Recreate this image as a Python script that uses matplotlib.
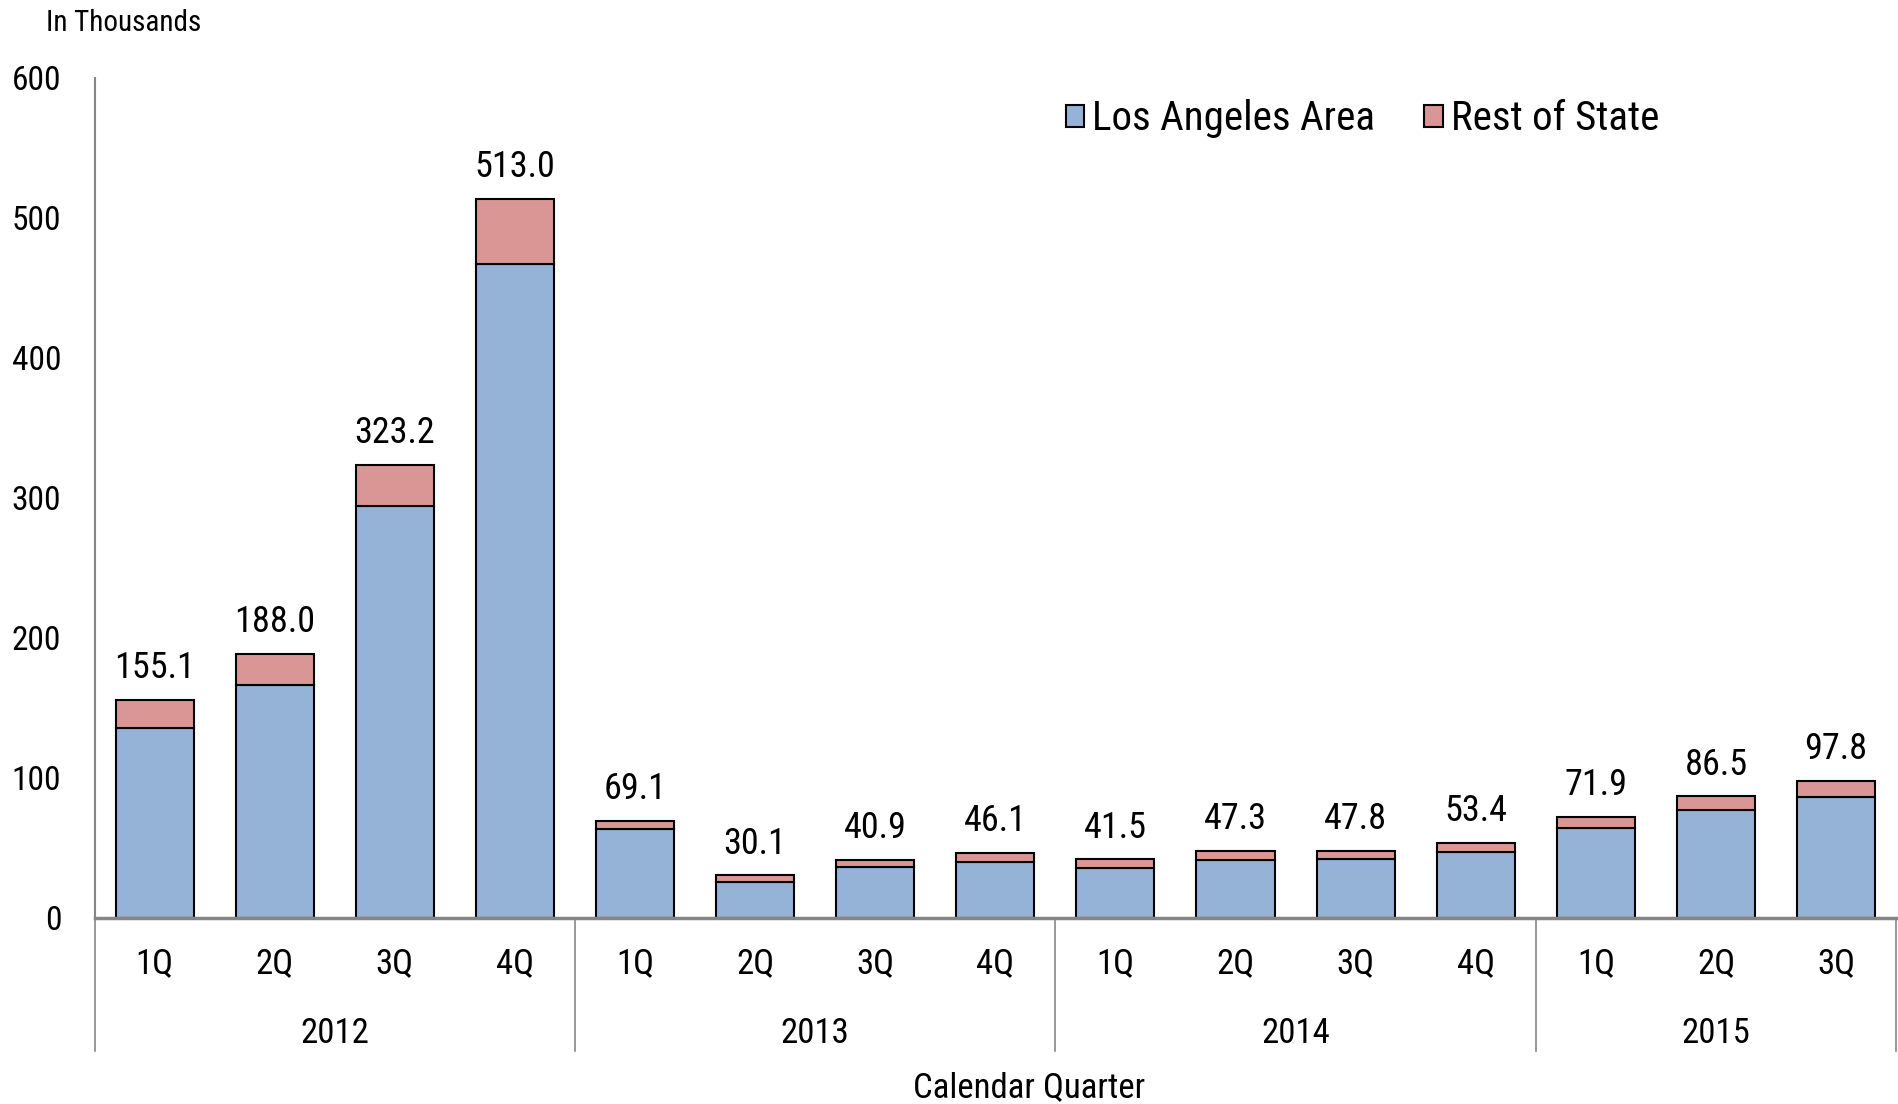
import numpy as np
import matplotlib
matplotlib.use('Agg')
import matplotlib.pyplot as plt
import matplotlib.transforms as mtransforms

plt.rcParams['font.family'] = ['Roboto Condensed', 'DejaVu Sans']

# data (thousands)
years = ['2012', '2013', '2014', '2015']
quarters = ['1Q', '2Q', '3Q', '4Q', '1Q', '2Q', '3Q', '4Q',
            '1Q', '2Q', '3Q', '4Q', '1Q', '2Q', '3Q']
totals = [155.1, 188.0, 323.2, 513.0, 69.1, 30.1, 40.9, 46.1,
          41.5, 47.3, 47.8, 53.4, 71.9, 86.5, 97.8]
la_area = [135.5, 166.3, 294.0, 466.5, 63.5, 25.6, 35.8, 40.0,
           35.5, 41.3, 41.8, 47.0, 63.8, 76.5, 86.3]
rest_state = [t - l for t, l in zip(totals, la_area)]
year_counts = [4, 4, 4, 3]

blue = '#95B3D7'
red = '#D99694'
grey = '#868686'

fig = plt.figure(figsize=(18.98, 11.04), dpi=100)
ax = fig.add_axes([0.0498, 0.1689, 0.9492, 0.7609])

x = np.arange(len(quarters))
ax.bar(x, la_area, width=0.65, color=blue, edgecolor='black', linewidth=1.5,
       label='Los Angeles Area')
ax.bar(x, rest_state, width=0.65, bottom=la_area, color=red, edgecolor='black',
       linewidth=1.5, label='Rest of State')

for xi, t in zip(x, totals):
    ax.annotate(f'{t:.1f}', (xi, t), xytext=(0, 10), textcoords='offset points',
                ha='center', va='bottom', fontsize=26)

ax.set_xlim(-0.5, len(quarters) - 0.5)
ax.set_ylim(0, 600)
ax.set_yticks(range(0, 601, 100))
ax.tick_params(axis='y', length=0, pad=24, labelsize=24)
ax.set_xticks([])
for s in ['top', 'right']:
    ax.spines[s].set_visible(False)
ax.spines['left'].set_color(grey)
ax.spines['left'].set_linewidth(1.5)
ax.spines['bottom'].set_color(grey)
ax.spines['bottom'].set_linewidth(2.5)

# multi-level category axis
trans = mtransforms.blended_transform_factory(ax.transData, ax.transAxes)
for xi, q in zip(x, quarters):
    ax.text(xi, -0.055, q, transform=trans, ha='center', va='center', fontsize=25)
start = 0
bounds = [-0.5]
for yr, n in zip(years, year_counts):
    ax.text(start + (n - 1) / 2, -0.138, yr, transform=trans, ha='center',
            va='center', fontsize=25)
    start += n
    bounds.append(start - 0.5)
for b in bounds:
    ax.plot([b, b], [0, -0.159], transform=trans, color=grey, lw=1.2,
            clip_on=False)

ax.text(0.519, -0.2024, 'Calendar Quarter', transform=ax.transAxes, ha='center',
        va='center', fontsize=25)
fig.text(0.024, 0.979, 'In Thousands', ha='left', va='center', fontsize=21)

ax.legend(loc='center left', bbox_to_anchor=(0.539, 0.951), ncol=2, frameon=False,
          fontsize=29.5, handlelength=0.45, handleheight=0.45, handletextpad=0.2,
          columnspacing=1.2, borderpad=0, borderaxespad=0)

fig.savefig('out.png', dpi=100)
